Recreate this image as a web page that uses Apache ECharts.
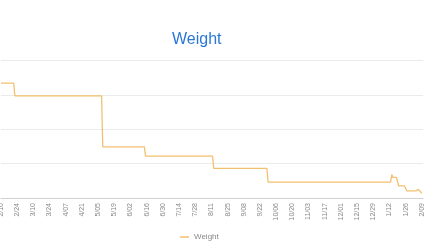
<!DOCTYPE html>
<html>
<head>
<meta charset="utf-8">
<script src="https://cdn.jsdelivr.net/npm/echarts@6/dist/echarts.min.js"></script>
<style>html,body{margin:0;padding:0;background:#fff}#c{width:430px;height:242px}</style>
</head>
<body>
<div id="c"></div>
<script>
var startDate = '2019-02-10';
var dates = ['2019-02-10','2019-02-21','2019-02-22','2019-05-08','2019-05-09','2019-06-14','2019-06-15','2019-08-12','2019-08-13','2019-09-28','2019-09-29','2020-01-13','2020-01-14','2020-01-15','2020-01-18','2020-01-20','2020-01-25','2020-01-27','2020-02-04','2020-02-06','2020-02-07','2020-02-09'];
var weights = [183.4,183.4,179.7,179.7,164.9,164.9,162.2,162.2,158.6,158.6,154.6,154.6,156.8,156.0,156.0,153.5,153.5,152.1,152.1,152.5,152.5,151.4];
var seriesName = 'Weight';
var titleText = 'Weight';

var DAY = 86400000;
function toDay(s){var p=s.split('-');return (Date.UTC(+p[0],+p[1]-1,+p[2])-Date.UTC(2019,1,10))/DAY;}
function fmt(v){var d=new Date(Date.UTC(2019,1,10)+v*DAY);var m=d.getUTCMonth()+1,dd=d.getUTCDate();return m+'/'+(dd<10?'0'+dd:dd);}
var data = dates.map(function(d,i){return [toDay(d), weights[i]];});

var chart = echarts.init(document.getElementById('c'));
chart.setOption({
  animation:false,
  title:{text:titleText,left:167,top:27,textStyle:{fontFamily:'Liberation Sans, Arial',fontSize:16,fontWeight:'normal',color:'#2a78d6'}},
  legend:{top:233,left:180,padding:0,icon:'rect',itemWidth:9,itemHeight:1.5,itemGap:4,
    textStyle:{fontFamily:'Liberation Sans, Arial',fontSize:8,color:'#888'},data:[seriesName]},
  grid:{left:1,right:7,top:60.5,bottom:44,containLabel:false,outerBoundsMode:'none'},
  xAxis:{type:'value',min:0,max:365,interval:14,
    axisLine:{show:true,lineStyle:{color:'#d0d0d0'}},axisTick:{show:false},splitLine:{show:false},
    axisLabel:{rotate:90,margin:5,fontSize:7,color:'#888',fontFamily:'Liberation Sans, Arial',formatter:fmt,showMaxLabel:false}},
  yAxis:{type:'value',min:150,max:190,interval:10,
    axisLine:{show:false},axisTick:{show:false},axisLabel:{show:false},
    splitLine:{lineStyle:{color:'#ebebeb'}}},
  series:[{name:seriesName,type:'line',data:data,showSymbol:false,symbol:'none',
    lineStyle:{color:'#f3c06f',width:1.3},itemStyle:{color:'#f3c06f'}}]
});
</script>
</body>
</html>
